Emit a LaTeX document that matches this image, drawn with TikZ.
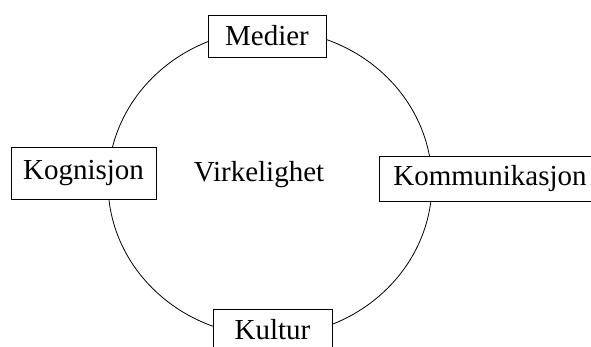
\documentclass[tikz,border=0pt]{standalone}
\usepackage{fontspec}
\setmainfont{Liberation Serif}
\usepackage{tikz}

\begin{document}
\begin{tikzpicture}[x = 1pt, y = -1pt]
\tikzstyle{boxStyle}=[shape = rectangle, draw, line width = 0.9pt, fill = white, inner sep = 0pt, font = \fontsize{29}{34}\selectfont]
\tikzstyle{ringStyle}=[line width = 0.8pt]
\useasboundingbox (0,0) rectangle (591,347);
\coordinate (centre) at (270,183);
\draw[ringStyle] (centre) ellipse [x radius = 162pt, y radius = 153pt];
\node[boxStyle, minimum width = 118pt, minimum height = 42pt] (medier) at (267,36) {Medier};
\node[boxStyle, minimum width = 145pt, minimum height = 52pt] (kognisjon) at (83.5,173) {Kognisjon};
\node[boxStyle, minimum width = 222pt, minimum height = 45pt] (kommunikasjon) at (490,178.5) {Kommunikasjon};
\node[boxStyle, minimum width = 119pt, minimum height = 42pt] (kultur) at (272.5,330) {Kultur};
\node[font = \fontsize{29}{34}\selectfont] (virkelighet) at (259,175) {Virkelighet};
\end{tikzpicture}
\end{document}
